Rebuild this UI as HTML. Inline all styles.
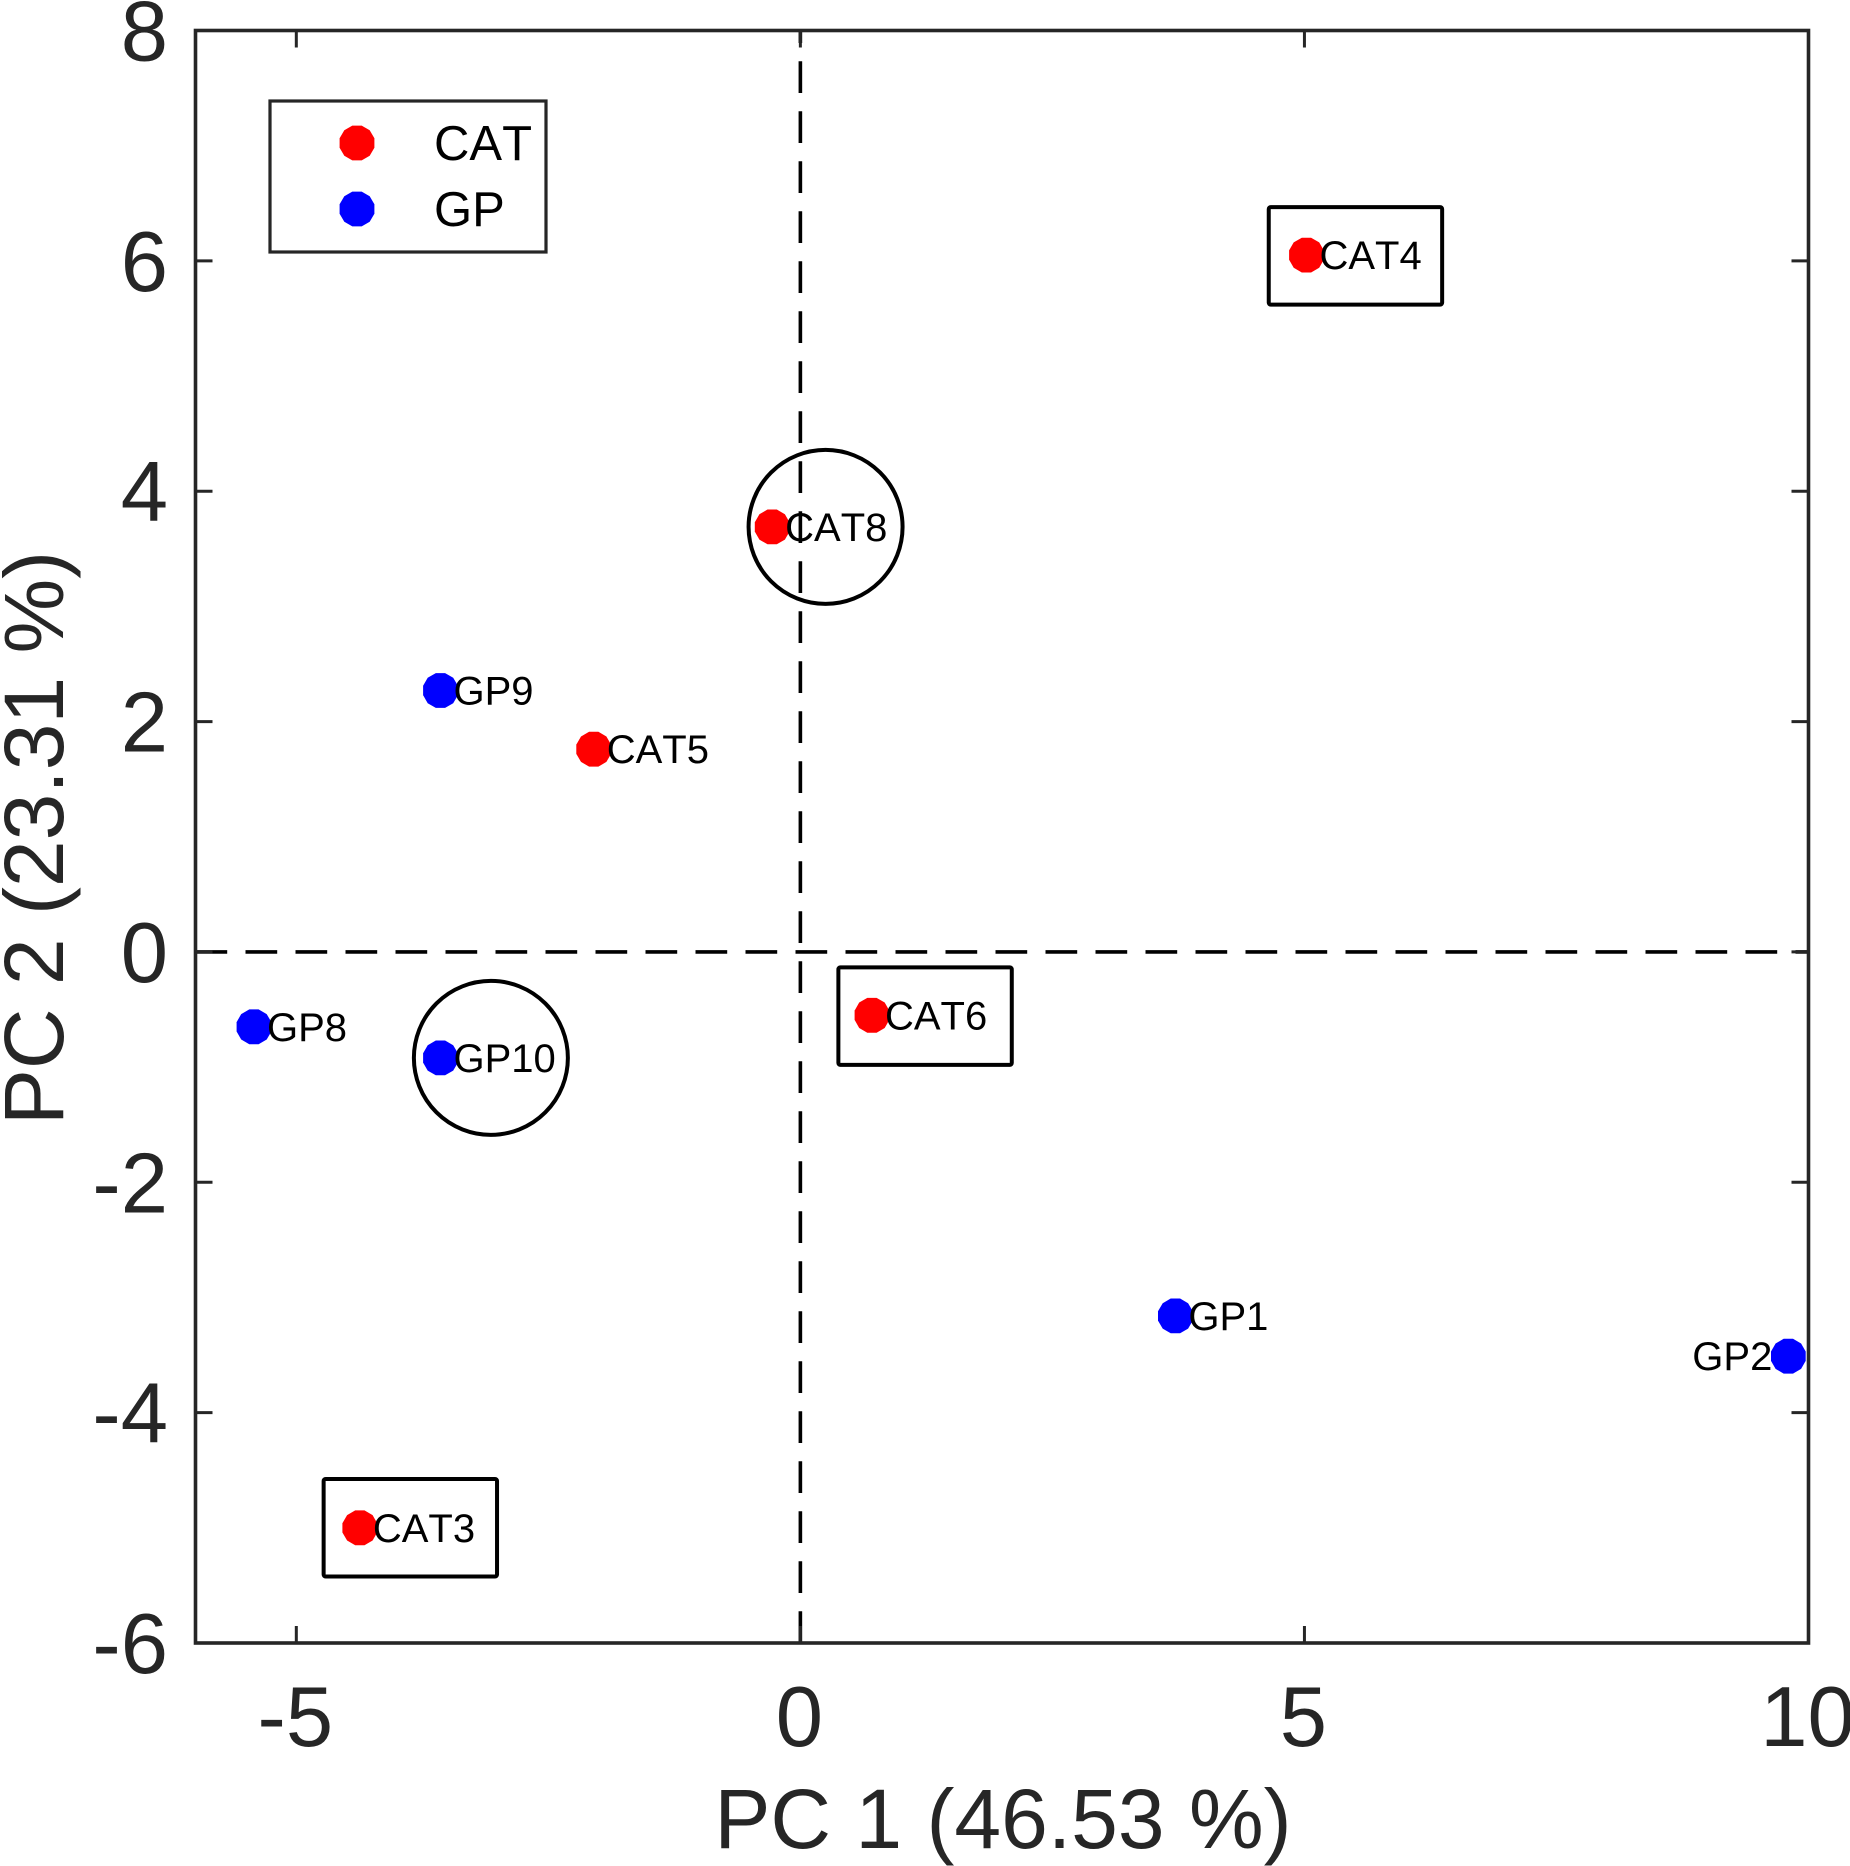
<!DOCTYPE html>
<html lang="en">
<head>
<meta charset="utf-8">
<title>PCA score plot</title>
<style>
html,body{margin:0;padding:0;background:#fff;width:1850px;height:1866px;overflow:hidden}
svg{display:block;font-family:"Liberation Sans",Arial,sans-serif;font-kerning:none}
</style>
</head>
<body>
<svg id="chart" xmlns="http://www.w3.org/2000/svg" width="1850" height="1866" viewBox="0 0 1850 1866">
  <rect x="0" y="0" width="1850" height="1866" fill="#ffffff"/>
  <g id="grid-layer"></g>
  <g id="tick-layer"></g>
  <g id="annotation-layer"></g>
  <g id="point-layer"></g>
  <rect x="195.5" y="30.5" width="1613" height="1612.5" fill="none" stroke="#262626" stroke-width="3.6"/>
  <g id="label-layer"></g>
  <text x="1003" y="1848" font-size="84" fill="#262626" text-anchor="middle" style="word-spacing:1px">PC 1 (46.53 %)</text>
  <text transform="translate(63 838) rotate(-90)" font-size="84" fill="#262626" text-anchor="middle">PC 2 (23.31 %)</text>
  <g>
    <rect x="270" y="101" width="276" height="151" fill="#ffffff" stroke="#262626" stroke-width="3.2"/>
    <g>
      <polygon id="legend-marker-cat" fill="#ff0000"/>
      <text x="434" y="160" font-size="49" fill="#000000">CAT</text>
    </g>
    <g>
      <polygon id="legend-marker-gp" fill="#0000ff"/>
      <text x="434" y="226" font-size="49" fill="#000000">GP</text>
    </g>
  </g>
</svg>
<script>
const xTicks = [-5, 0, 5, 10];
const yTicks = [8, 6, 4, 2, 0, -2, -4, -6];
const catNames = ['CAT3', 'CAT4', 'CAT5', 'CAT6', 'CAT8'];
const catX = [-4.37, 5.02, -2.05, 0.71, -0.28];
const catY = [-5.0, 6.05, 1.76, -0.55, 3.69];
const gpNames = ['GP1', 'GP2', 'GP8', 'GP9', 'GP10'];
const gpX = [3.72, 9.80, -5.42, -3.57, -3.57];
const gpY = [-3.16, -3.51, -0.65, 2.27, -0.92];
const boxLeft = [-4.729, 4.646, 0.377];
const boxTop = [-4.576, 6.467, -0.134];
const boxWidth = [1.72, 1.72, 1.72];
const boxHeight = [0.847, 0.847, 0.847];
const circleX = [0.25, -3.07];
const circleY = [3.69, -0.92];

const NS = 'http://www.w3.org/2000/svg';
const plot = {left: 195.5, right: 1808.5, top: 30.5, bottom: 1643};
const xDomain = [-6, 10];
const yDomain = [-6, 8];
const sx = v => plot.left + (v - xDomain[0]) / (xDomain[1] - xDomain[0]) * (plot.right - plot.left);
const sy = v => plot.bottom - (v - yDomain[0]) / (yDomain[1] - yDomain[0]) * (plot.bottom - plot.top);

function make(tag, parent, attrs, text) {
  const el = document.createElementNS(NS, tag);
  for (const k in attrs) el.setAttribute(k, attrs[k]);
  if (text !== undefined) el.textContent = text;
  parent.appendChild(el);
  return el;
}
function octo(cx, cy, r) {
  const pts = [];
  for (let i = 0; i < 12; i++) {
    const a = (i + 0.5) * Math.PI / 6;
    pts.push((cx + r * Math.cos(a)).toFixed(1) + ',' + (cy + r * Math.sin(a)).toFixed(1));
  }
  return pts.join(' ');
}

const gridLayer = document.getElementById('grid-layer');
const tickLayer = document.getElementById('tick-layer');
const annotationLayer = document.getElementById('annotation-layer');
const pointLayer = document.getElementById('point-layer');
const labelLayer = document.getElementById('label-layer');

const zeroV = make('line', gridLayer, {x1: sx(0), x2: sx(0), y1: plot.bottom, y2: plot.top, stroke: '#000', 'stroke-width': 3.6, 'stroke-dasharray': '31.7 18.3'});


const zeroH = make('line', gridLayer, {x1: plot.left, x2: plot.right, y1: sy(0), y2: sy(0), stroke: '#000', 'stroke-width': 3.6, 'stroke-dasharray': '31.7 18.3'});



const tickLen = 17;
xTicks.forEach(t => {
  const a = make('line', tickLayer, {x1: sx(t), x2: sx(t), y1: plot.bottom, y2: plot.bottom - tickLen, stroke: '#262626', 'stroke-width': 3});
  
  
  const b = make('line', tickLayer, {x1: sx(t), x2: sx(t), y1: plot.top, y2: plot.top + tickLen, stroke: '#262626', 'stroke-width': 3});
  
  
  const l = make('text', labelLayer, {x: sx(t) - 1, y: 1746, 'font-size': 85, fill: '#262626', 'text-anchor': 'middle'}, String(t));
  
  
});
yTicks.forEach(t => {
  const a = make('line', tickLayer, {x1: plot.left, x2: plot.left + tickLen, y1: sy(t), y2: sy(t), stroke: '#262626', 'stroke-width': 3});
  
  
  const b = make('line', tickLayer, {x1: plot.right, x2: plot.right - tickLen, y1: sy(t), y2: sy(t), stroke: '#262626', 'stroke-width': 3});
  
  
  const l = make('text', labelLayer, {x: 168, y: sy(t) + 30, 'font-size': 85, fill: '#262626', 'text-anchor': 'end'}, String(t));
  
  
});

boxLeft.forEach((left, i) => {
  const box = make('rect', annotationLayer, {
    x: sx(left), y: sy(boxTop[i]),
    width: sx(left + boxWidth[i]) - sx(left),
    height: sy(boxTop[i] - boxHeight[i]) - sy(boxTop[i]),
    rx: 2, fill: 'none', stroke: '#000', 'stroke-width': 4
  });
  
  
});
circleX.forEach((c, i) => {
  const ring = make('circle', annotationLayer, {cx: sx(c), cy: sy(circleY[i]), r: 77, fill: 'none', stroke: '#000', 'stroke-width': 4});
  
  
});

function drawSeries(names, xs, ys, color) {
  names.forEach((name, i) => {
    const cx = sx(xs[i]);
    const cy = sy(ys[i]);
    const mark = make('polygon', pointLayer, {points: octo(cx, cy, 18), fill: color});
    
    
    const leftSide = name === 'GP2';
    const label = make('text', pointLayer, {x: leftSide ? cx - 16 : cx + 13, y: cy + 14, 'font-size': 40, fill: '#000', 'text-anchor': leftSide ? 'end' : 'start'}, name);
    
    
  });
}
drawSeries(catNames, catX, catY, '#ff0000');
drawSeries(gpNames, gpX, gpY, '#0000ff');

document.getElementById('legend-marker-cat').setAttribute('points', octo(357, 143, 18));
document.getElementById('legend-marker-gp').setAttribute('points', octo(357, 209, 18));
</script>
</body>
</html>
